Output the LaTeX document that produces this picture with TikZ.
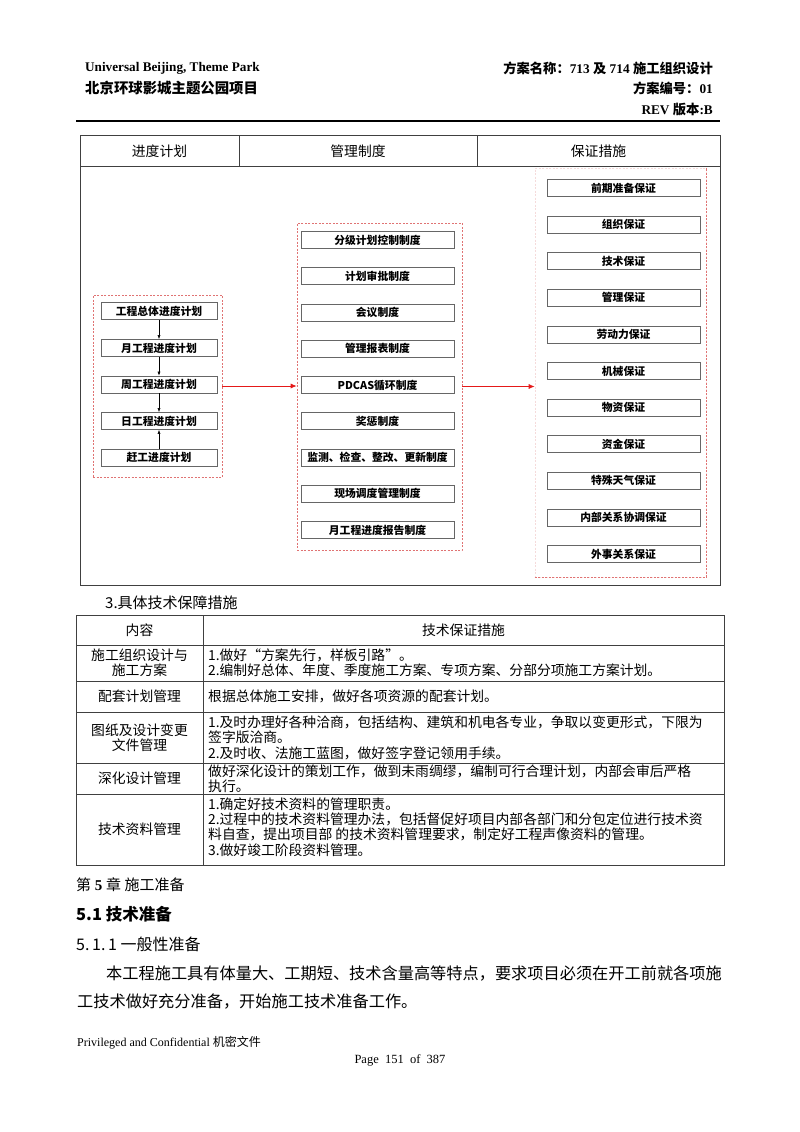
\documentclass[tikz,border=0pt]{standalone}
\usepackage{fontspec}
\usepackage{tikz}
\usetikzlibrary{arrows.meta}
\setmainfont{Liberation Serif}
\newfontfamily\cjk{Noto Sans CJK SC}
\definecolor{framered}{rgb}{.88,.45,.45}
\definecolor{faintred}{rgb}{.96,.86,.86}
\definecolor{boxgray}{rgb}{.4,.4,.4}
\definecolor{rulegray}{rgb}{.25,.25,.25}
\definecolor{arrowred}{rgb}{.9,.1,.1}
\newcommand\bxfont{\cjk\bfseries\fontsize{10.8pt}{12pt}\selectfont}
\newcommand\cellfont{\cjk\fontsize{13.8pt}{15.4pt}\selectfont}

\begin{document}
\begin{tikzpicture}[x=1pt,y=-1pt,
  planbox/.style={draw=boxgray,line width=.6pt,minimum width=116pt,minimum height=17pt,inner sep=0pt,font=\bxfont},
  rulebox/.style={planbox,minimum width=153pt},
  frame/.style={draw=framered,dash pattern=on 2pt off 1.5pt,line width=.6pt,inner sep=0pt},
  cell/.style={font=\cellfont,inner sep=0pt,align=center},
  celltext/.style={font=\cellfont,inner sep=0pt,align=left,anchor=west},
  lefttext/.style={inner sep=0pt,anchor=west},
  redarrow/.style={arrowred,line width=.8pt,-{Latex[length=6pt,width=5pt]}},
  downarrow/.style={black,line width=.5pt,-{Latex[length=4pt,width=3pt]}}]

\fill[white] (0,0) rectangle (800,1132);
\useasboundingbox (0,0) rectangle (800,1132);

\node[lefttext,font=\bfseries\fontsize{13.2pt}{15pt}\selectfont] (proj) at (85,68) {Universal Beijing, Theme Park};
\node[lefttext,font=\cjk\bfseries\fontsize{14.4pt}{16pt}\selectfont] (projcn) at (85,88) {北京环球影城主题公园项目};
\node[inner sep=0pt,anchor=east,font=\bfseries\fontsize{13.3pt}{15pt}\selectfont] (planname) at (713,68) {{\cjk 方案名称：}713 {\cjk 及} 714 {\cjk 施工组织设计}};
\node[inner sep=0pt,anchor=east,font=\bfseries\fontsize{13.3pt}{15pt}\selectfont] (planno) at (713,88) {{\cjk 方案编号：}01};
\node[inner sep=0pt,anchor=east,font=\bfseries\fontsize{13.3pt}{15pt}\selectfont] (rev) at (713,110) {REV {\cjk 版本}:B};
\draw[line width=2.5pt] (76,121) -- (720,121);

\draw[rulegray,line width=1pt] (80,135) rectangle (720,585);
\draw[rulegray,line width=1pt] (80,166) -- (720,166);
\draw[rulegray,line width=1pt] (239,135) -- (239,166);
\draw[rulegray,line width=1pt] (477,135) -- (477,166);
\node[cell] (hplan) at (159.5,151) {进度计划};
\node[cell] (hrule) at (358,151) {管理制度};
\node[cell] (hguar) at (598.5,151) {保证措施};

\node[frame,minimum width=129pt,minimum height=182pt] (planfrm) at (157.5,386) {};
\node[planbox] (p1) at (159,311) {工程总体进度计划};
\node[planbox] (p2) at (159,348) {月工程进度计划};
\node[planbox] (p3) at (159,384.5) {周工程进度计划};
\node[planbox] (p4) at (159,421) {日工程进度计划};
\node[planbox] (p5) at (159,457.5) {赶工进度计划};
\draw[downarrow] (p1.south) -- (p2.north);
\draw[downarrow] (p2.south) -- (p3.north);
\draw[downarrow] (p3.south) -- (p4.north);
\draw[downarrow] (p5.north) -- (p4.south);

\node[frame,minimum width=165pt,minimum height=327pt] (rulefrm) at (379.5,386.5) {};
\node[rulebox] (r1) at (377.5,240) {分级计划控制制度};
\node[rulebox] (r2) at (377.5,276.25) {计划审批制度};
\node[rulebox] (r3) at (377.5,312.5) {会议制度};
\node[rulebox] (r4) at (377.5,348.75) {管理报表制度};
\node[rulebox] (r5) at (377.5,385) {PDCAS循环制度};
\node[rulebox] (r6) at (377.5,421.25) {奖惩制度};
\node[rulebox] (r7) at (377.5,457.5) {监测、检查、整改、更新制度};
\node[rulebox] (r8) at (377.5,493.75) {现场调度管理制度};
\node[rulebox] (r9) at (377.5,530) {月工程进度报告制度};

\node[frame,draw=faintred,minimum width=171pt,minimum height=409pt] (guarfrm) at (620.5,372.5) {};
\draw[frame] (guarfrm.south west) -- (guarfrm.south east) -- (guarfrm.north east);
\node[rulebox] (g1) at (623.5,188) {前期准备保证};
\node[rulebox] (g2) at (623.5,224.6) {组织保证};
\node[rulebox] (g3) at (623.5,261.2) {技术保证};
\node[rulebox] (g4) at (623.5,297.8) {管理保证};
\node[rulebox] (g5) at (623.5,334.4) {劳动力保证};
\node[rulebox] (g6) at (623.5,371) {机械保证};
\node[rulebox] (g7) at (623.5,407.6) {物资保证};
\node[rulebox] (g8) at (623.5,444.2) {资金保证};
\node[rulebox] (g9) at (623.5,480.8) {特殊天气保证};
\node[rulebox] (g10) at (623.5,517.4) {内部关系协调保证};
\node[rulebox] (g11) at (623.5,554) {外事关系保证};

\draw[redarrow] (planfrm.east) -- (planfrm.east -| rulefrm.west);
\draw[redarrow] (rulefrm.east) -- (rulefrm.east -| guarfrm.west);

\node[lefttext,font=\cjk\fontsize{15pt}{17pt}\selectfont] (tech) at (105,603) {3.具体技术保障措施};
\draw[rulegray,line width=1pt] (76,615) rectangle (724,865);
\draw[rulegray,line width=1pt] (76,645) -- (724,645);
\draw[rulegray,line width=1pt] (76,681) -- (724,681);
\draw[rulegray,line width=1pt] (76,712) -- (724,712);
\draw[rulegray,line width=1pt] (76,763) -- (724,763);
\draw[rulegray,line width=1pt] (76,794) -- (724,794);
\draw[rulegray,line width=1pt] (203,615) -- (203,865);
\node[cell] (c0) at (139.5,630) {内容};
\node[cell] (m0) at (463.5,630) {技术保证措施};
\node[cell] (c1) at (139.5,663) {施工组织设计与\\施工方案};
\node[celltext] (m1) at (208,663) {1.做好“方案先行，样板引路”。\\2.编制好总体、年度、季度施工方案、专项方案、分部分项施工方案计划。};
\node[cell] (c2) at (139.5,696.5) {配套计划管理};
\node[celltext] (m2) at (208,696.5) {根据总体施工安排，做好各项资源的配套计划。};
\node[cell] (c3) at (139.5,737.5) {图纸及设计变更\\文件管理};
\node[celltext] (m3) at (208,737.5) {1.及时办理好各种洽商，包括结构、建筑和机电各专业，争取以变更形式，下限为\\签字版洽商。\\2.及时收、法施工蓝图，做好签字登记领用手续。};
\node[cell] (c4) at (139.5,778.5) {深化设计管理};
\node[celltext] (m4) at (208,778.5) {做好深化设计的策划工作，做到未雨绸缪，编制可行合理计划，内部会审后严格\\执行。};
\node[cell] (c5) at (139.5,829.5) {技术资料管理};
\node[celltext] (m5) at (208,827) {1.确定好技术资料的管理职责。\\2.过程中的技术资料管理办法，包括督促好项目内部各部门和分包定位进行技术资\\料自查，提出项目部 的技术资料管理要求，制定好工程声像资料的管理。\\3.做好竣工阶段资料管理。};

\node[lefttext,font=\fontsize{15pt}{17pt}\selectfont] (chap) at (76,885) {{\cjk 第}\ \textbf{5}\ {\cjk 章\ 施工准备}};
\node[lefttext,font=\cjk\bfseries\fontsize{16.5pt}{18pt}\selectfont] (sec) at (76,914) {5.1 技术准备};
\node[lefttext,font=\cjk\fontsize{16pt}{18pt}\selectfont] (subsec) at (76,944) {5.\,1.\,1 一般性准备};
\node[lefttext,font=\cjk\fontsize{16.2pt}{18pt}\selectfont] (para1) at (106,973) {本工程施工具有体量大、工期短、技术含量高等特点，要求项目必须在开工前就各项施};
\node[lefttext,font=\cjk\fontsize{16.2pt}{18pt}\selectfont] (para2) at (77,1002) {工技术做好充分准备，开始施工技术准备工作。};

\node[lefttext,font=\fontsize{12pt}{14pt}\selectfont] (conf) at (77,1043) {Privileged and Confidential {\cjk 机密文件}};
\node[inner sep=0pt,font=\fontsize{12.5pt}{14pt}\selectfont] (page) at (400,1060) {Page\ \ 151\ \ of\ \ 387};
\end{tikzpicture}
\end{document}
